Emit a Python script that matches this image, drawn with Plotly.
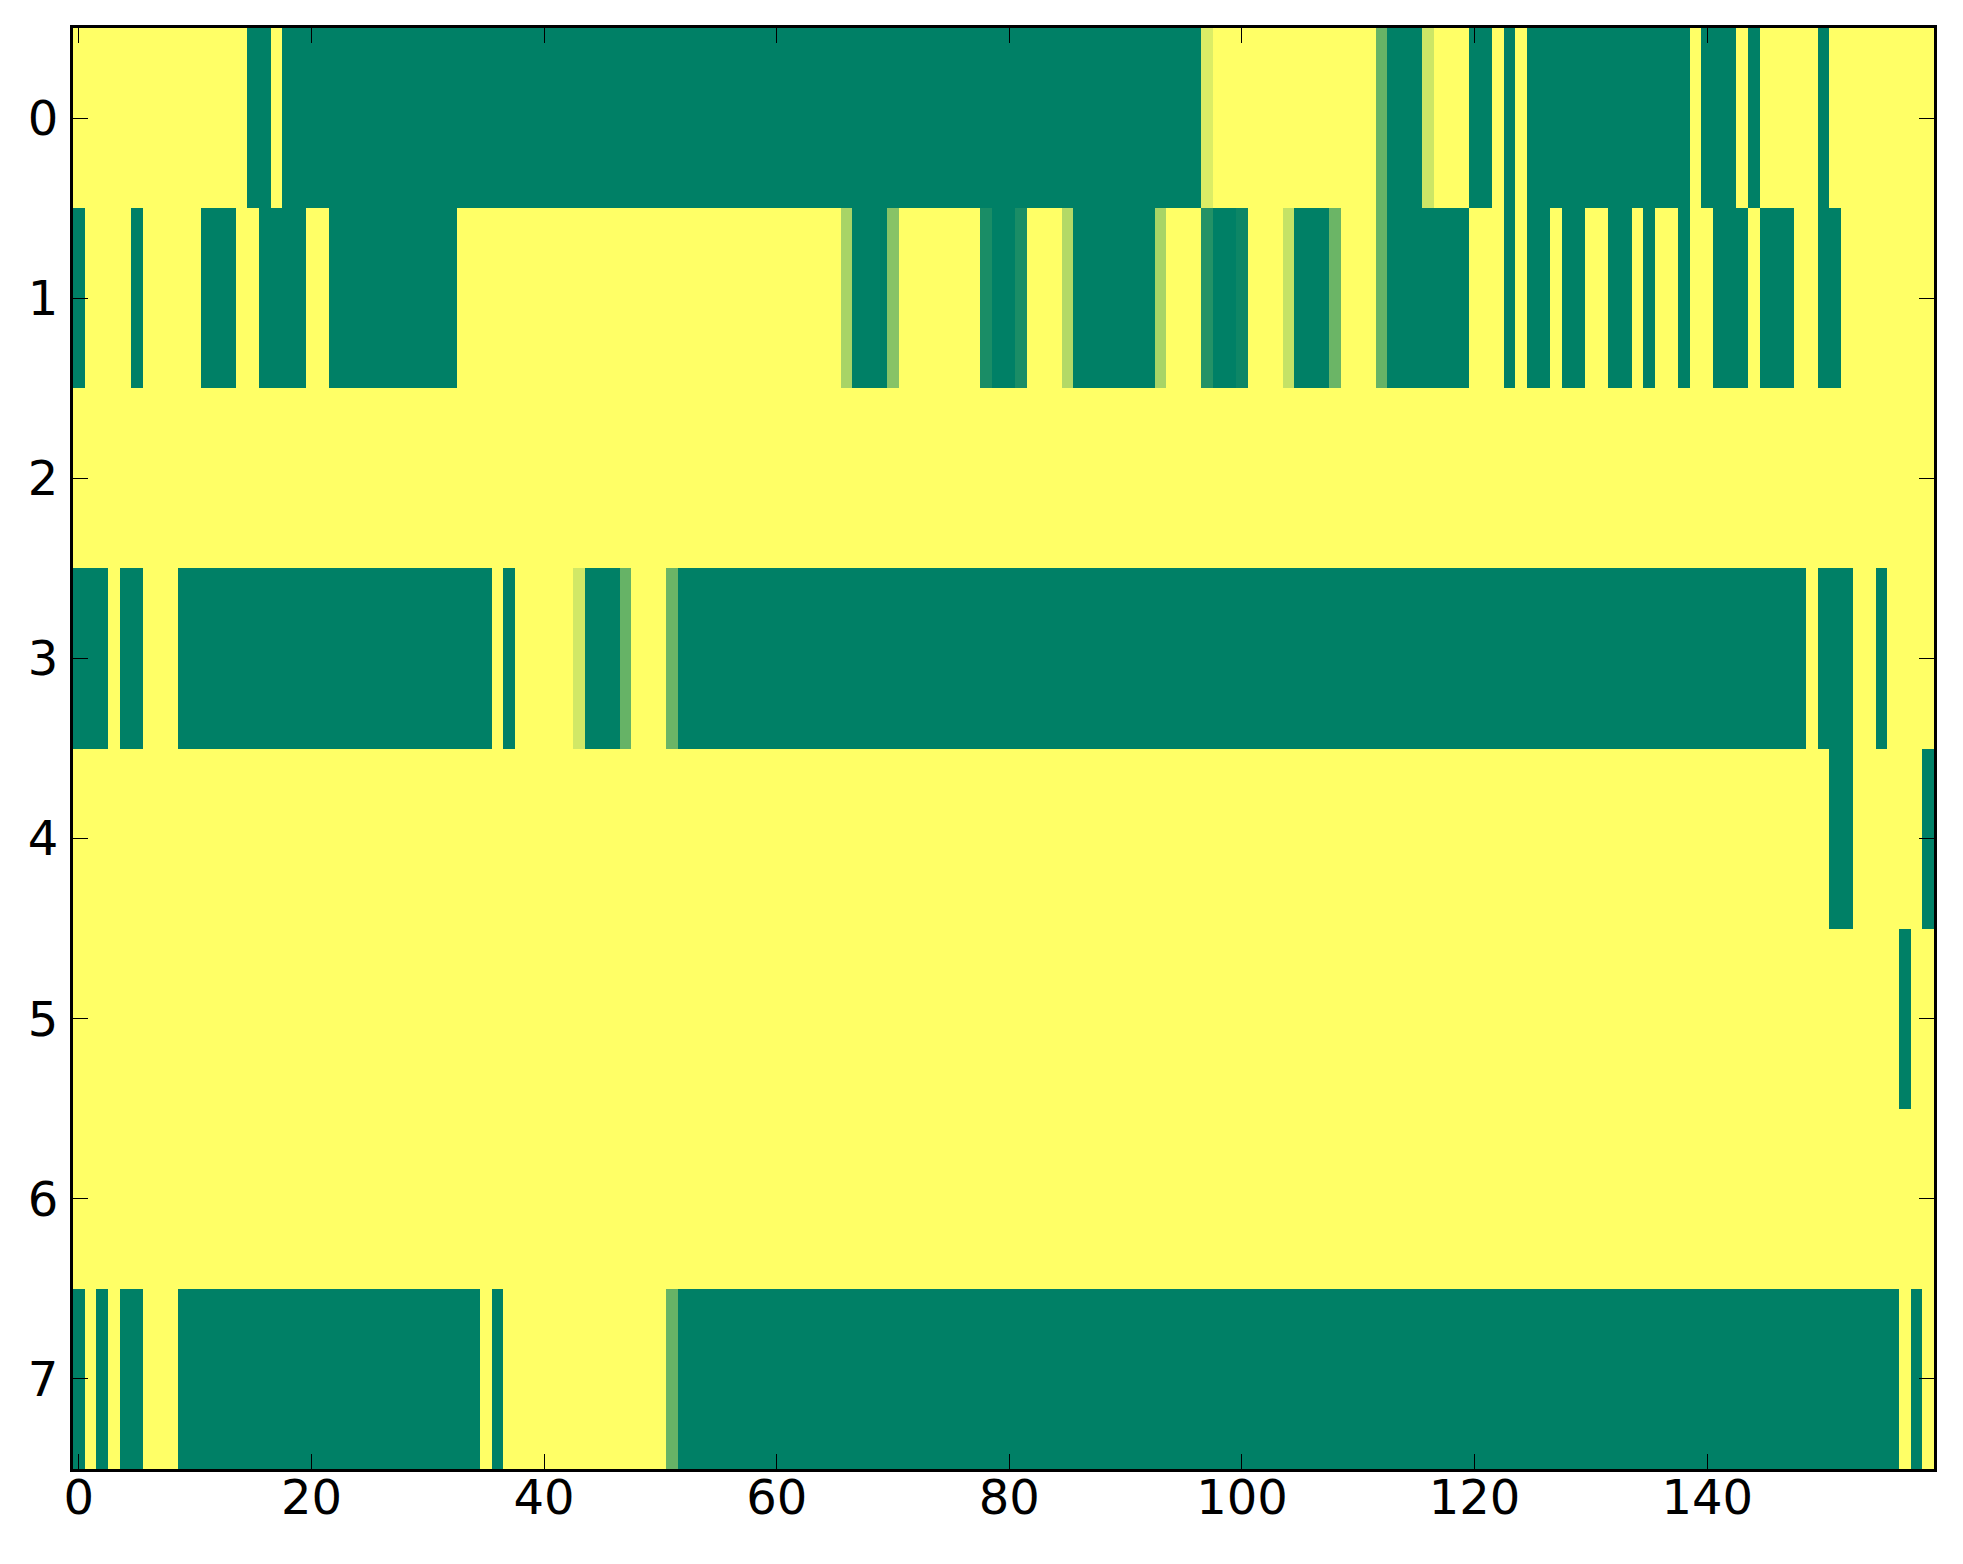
import plotly.graph_objects as go

# each row is a list of (value, run length), left to right
row0 = [(1, 15), (0, 2), (1, 1), (0, 79), (0.86, 1), (1, 14), (0.4, 1), (0, 3),
        (0.8, 1), (1, 3), (0, 2), (1, 1), (0, 1), (1, 1), (0, 14), (1, 1),
        (0, 3), (1, 1), (0, 1), (1, 5), (0, 1), (1, 9)]
row1 = [(0, 1), (1, 4), (0, 1), (1, 5), (0, 3), (1, 2), (0, 4), (1, 2), (0, 11),
        (1, 33), (0.66, 1), (0, 3), (0.53, 1), (1, 7), (0.1, 1), (0, 2), (0.1, 1),
        (1, 3), (0.7, 1), (0, 7), (0.66, 1), (1, 3), (0.14, 1), (0, 2), (0.05, 1),
        (1, 3), (0.77, 1), (0, 3), (0.42, 1), (1, 3), (0.4, 1), (0, 7), (1, 3),
        (0, 1), (1, 1), (0, 2), (1, 1), (0, 2), (1, 2), (0, 2), (1, 1), (0, 1),
        (1, 2), (0, 1), (1, 2), (0, 3), (1, 1), (0, 3), (1, 2), (0, 2), (1, 8)]
row2 = [(1, 160)]
row3 = [(0, 3), (1, 1), (0, 2), (1, 3), (0, 27), (1, 1), (0, 1), (1, 5), (0.82, 1),
        (0, 3), (0.4, 1), (1, 3), (0.42, 1), (0, 97), (1, 1), (0, 3), (1, 2),
        (0, 1), (1, 4)]
row4 = [(1, 151), (0, 2), (1, 6), (0, 1)]
row5 = [(1, 157), (0, 1), (1, 2)]
row6 = [(1, 160)]
row7 = [(0, 1), (1, 1), (0, 1), (1, 1), (0, 2), (1, 3), (0, 26), (1, 1), (0, 1),
        (1, 14), (0.4, 1), (0, 105), (1, 1), (0, 1), (1, 1)]

rows = [row0, row1, row2, row3, row4, row5, row6, row7]
x_ticks = [0, 20, 40, 60, 80, 100, 120, 140]
y_ticks = [0, 1, 2, 3, 4, 5, 6, 7]


def expand(runs):
    out = []
    for value, count in runs:
        out += [value] * count
    return out


z = [expand(r) for r in rows]

# matplotlib "summer" colormap
summer = [[0.0, 'rgb(0,128,102)'], [1.0, 'rgb(255,255,102)']]

fig = go.Figure(
    go.Heatmap(
        z=z,
        x=list(range(160)),
        y=list(range(8)),
        colorscale=summer,
        zmin=0,
        zmax=1,
        showscale=False,
        hoverinfo='skip',
    )
)

axis_style = dict(
    showline=True,
    linecolor='black',
    linewidth=3,
    mirror='allticks',
    ticks='inside',
    ticklen=15,
    tickwidth=1.3,
    tickcolor='black',
    showgrid=False,
    zeroline=False,
    tickfont=dict(family='DejaVu Sans', size=48, color='black'),
)

fig.update_xaxes(range=[-0.5, 159.5], tickvals=x_ticks, ticklabelstandoff=-16, **axis_style)
fig.update_yaxes(range=[7.5, -0.5], tickvals=y_ticks, ticklabelstandoff=2, **axis_style)

fig.update_layout(
    width=1963,
    height=1564,
    autosize=False,
    margin=dict(l=73, r=29, t=28, b=95),
    paper_bgcolor='white',
    plot_bgcolor='white',
)

# drop the default body margin so the figure sits at the page origin
fig.write_html(
    "out.html",
    config={'displayModeBar': False},
    post_script="document.body.style.margin='0';",
)
